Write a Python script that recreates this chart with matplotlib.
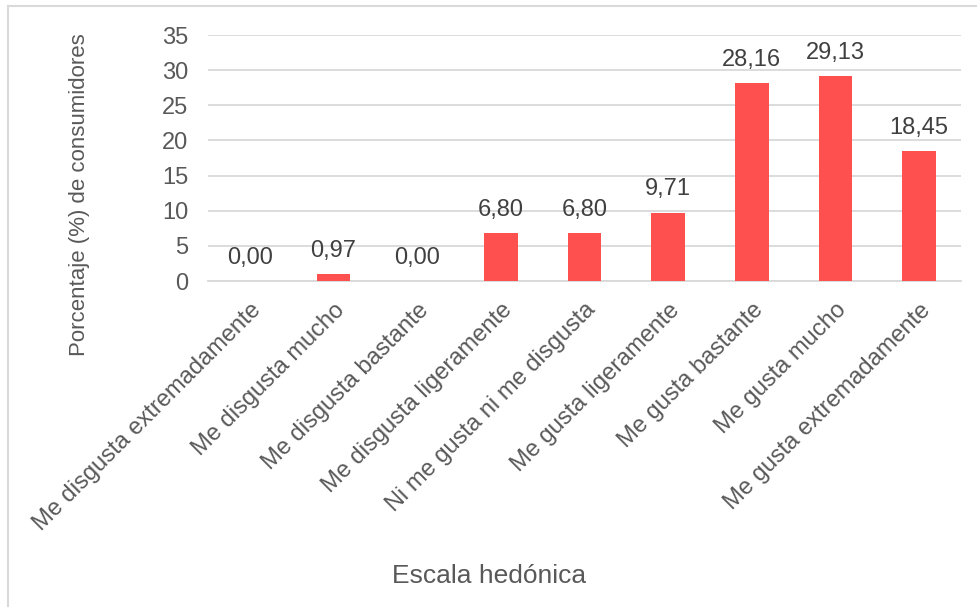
import matplotlib
matplotlib.use("Agg")
import matplotlib.pyplot as plt
from matplotlib.lines import Line2D

plt.rcParams['font.family'] = ['Liberation Sans', 'DejaVu Sans']

categories = [
    "Me disgusta extremadamente",
    "Me disgusta mucho",
    "Me disgusta bastante",
    "Me disgusta ligeramente",
    "Ni me gusta ni me disgusta",
    "Me gusta ligeramente",
    "Me gusta bastante",
    "Me gusta mucho",
    "Me gusta extremadamente",
]
percentages = [0.00, 0.97, 0.00, 6.80, 6.80, 9.71, 28.16, 29.13, 18.45]
y_ticks = [0, 5, 10, 15, 20, 25, 30, 35]

W, H = 978, 607
text_color = "#595959"
grid_color = "#D9D9D9"
bar_color = "#FF5050"

fig = plt.figure(figsize=(W / 100, H / 100), dpi=100)
fig.patch.set_facecolor("white")

# chart frame (left and top edges visible)
fig.add_artist(Line2D([8 / W, 8 / W], [0, 1 - 6 / H], color=grid_color, lw=1.5,
                      transform=fig.transFigure))
fig.add_artist(Line2D([8 / W, 1], [1 - 6 / H, 1 - 6 / H], color=grid_color, lw=1.5,
                      transform=fig.transFigure))

left, right, top, bottom = 208, 961, 35, 281
ax = fig.add_axes([left / W, 1 - bottom / H, (right - left) / W, (bottom - top) / H])

x = list(range(len(categories)))
bars = ax.bar(x, percentages, width=0.4, color=bar_color, zorder=3)

ax.set_xlim(-0.5, len(categories) - 0.5)
ax.set_ylim(0, 35)
ax.set_yticks(y_ticks)
ax.set_yticklabels([str(t) for t in y_ticks])
ax.yaxis.grid(True, color=grid_color, lw=1.3, zorder=0)
ax.set_axisbelow(True)

for s in ["top", "right", "left"]:
    ax.spines[s].set_visible(False)
ax.spines["bottom"].set_color(grid_color)
ax.spines["bottom"].set_linewidth(1.3)

ax.tick_params(axis="both", length=0, colors=text_color, labelsize=17)
ax.tick_params(axis="y", pad=14)
ax.set_xticks(x)
ax.set_xticklabels(categories, rotation=45, ha="right", va="top",
                   rotation_mode="anchor", fontsize=17, color=text_color)
ax.tick_params(axis="x", pad=13)

for xi, v in zip(x, percentages):
    ax.annotate(f"{v:.2f}".replace(".", ","), (xi, v), xytext=(0, 9),
                textcoords="offset points", ha="center", va="bottom",
                fontsize=17, color="#404040")

fig.text(80 / W, 1 - 195 / H, "Porcentaje (%) de consumidores", rotation=90,
         ha="center", va="center", fontsize=16, color=text_color)
fig.text(489 / W, 1 - 576 / H, "Escala hedónica", ha="center", va="center",
         fontsize=19, color=text_color)

fig.savefig("out.png", dpi=100, facecolor="white")
